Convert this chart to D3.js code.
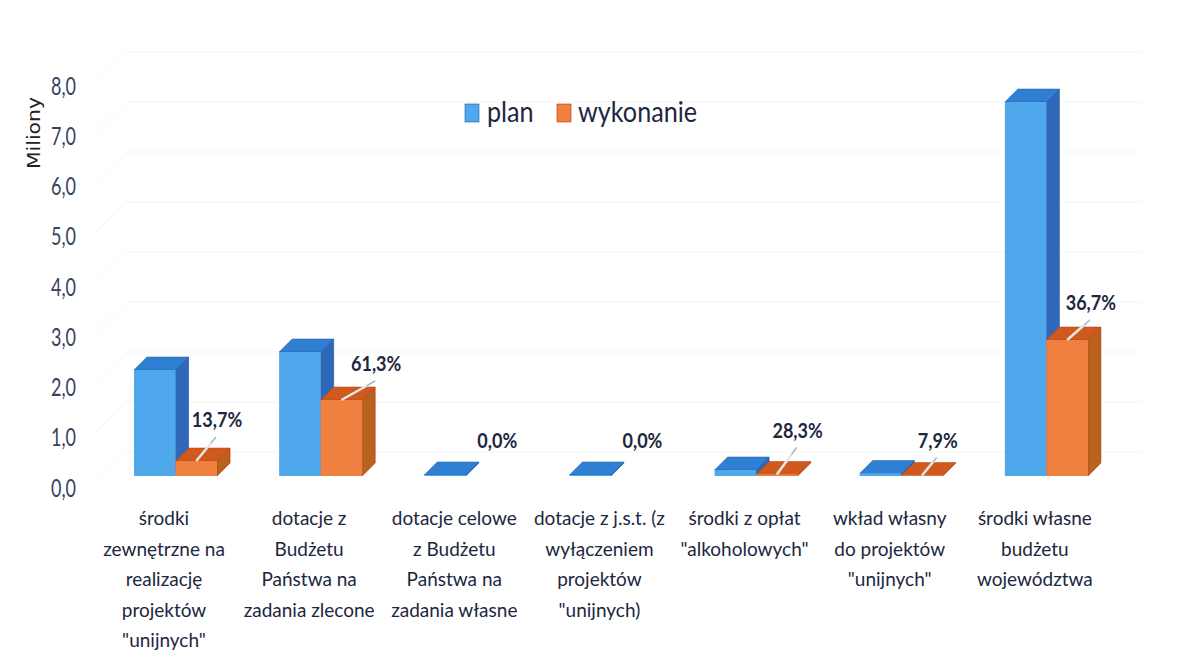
<!doctype html>
<html lang="pl">
<head>
<meta charset="utf-8">
<title>Plan i wykonanie</title>
<script src="https://d3js.org/d3.v7.min.js"></script>
<style>
  body { margin: 0; background: #fff; }
  text { font-family: "Lato", "Open Sans", sans-serif; }
</style>
</head>
<body>
<div id="chart"></div>
<script>
// wartości (miliony)
var categories = [
  ["środki", "zewnętrzne na", "realizację", "projektów", "\"unijnych\""],
  ["dotacje z", "Budżetu", "Państwa na", "zadania zlecone"],
  ["dotacje celowe", "z Budżetu", "Państwa na", "zadania własne"],
  ["dotacje z j.s.t. (z", "wyłączeniem", "projektów", "\"unijnych)"],
  ["środki z opłat", "\"alkoholowych\""],
  ["wkład własny", "do projektów", "\"unijnych\""],
  ["środki własne", "budżetu", "województwa"]
];
var plan = [2.12, 2.48, 0.02, 0.02, 0.12, 0.05, 7.48];
var wykonanie = [0.3, 1.52, 0, 0, 0.03, 0.01, 2.72];
var percent = ["13,7%", "61,3%", "0,0%", "0,0%", "28,3%", "7,9%", "36,7%"];
var ticks = [0, 1, 2, 3, 4, 5, 6, 7, 8];

var w = 1183, h = 661;
var dx = 13, dy = 13; // głębokość słupka
var ink = "#1c2740";

// przesunięcia etykiet względem słupków
var labelDx = [0, 14, -10, -10, 0, -5, 3];
var labelDy = [-34, -29, -28, -28, -37, -28, -30];

var svg = d3.select("#chart").append("svg")
  .attr("width", w).attr("height", h)
  .style("display", "block");

var x = d3.scaleBand().domain(d3.range(categories.length)).range([134, 1150]).paddingInner(0).paddingOuter(0);
var bw = 41.5;
var y = d3.scaleLinear().domain([0, 8]).range([476, 76]);
var yAxis = d3.scaleLinear().domain([0, 8]).range([488, 86]);

// siatka: tylna ściana i skosy
var grid = svg.append("g").attr("stroke", "#f4f5f6").attr("fill", "none");
ticks.forEach(function(t) {
  grid.append("line").attr("x1", 127).attr("x2", 1142).attr("y1", y(t) - 24).attr("y2", y(t) - 24);
  grid.append("line").attr("x1", 93).attr("x2", 127).attr("y1", y(t) + 9).attr("y2", y(t) - 24);
});

// oś pionowa
var axis = svg.append("g")
  .attr("transform", "translate(76,0)")
  .call(d3.axisLeft(yAxis).tickValues(ticks).tickSize(0).tickPadding(0)
    .tickFormat(function(d) { return d3.format(".1f")(d).replace(".", ","); }));
axis.select(".domain").remove();
axis.selectAll("text")
  .attr("fill", "#34435e")
  .attr("x", 0)
  .attr("transform", "scale(0.9,1.25)")
  .style("font-size", "20px");

svg.append("text")
  .attr("transform", "translate(40,133) rotate(-90) scale(1.2,1)")
  .attr("text-anchor", "middle")
  .attr("fill", "#222")
  .style("font-family", "'DejaVu Sans'")
  .style("font-size", "17px")
  .text("Miliony");

function drawBar(g, x0, v, c) {
  var top = y(v), base = y(0), x1 = x0 + bw;
  g.append("polygon").attr("fill", c.side).attr("stroke", c.edge).attr("stroke-width", 0.7)
    .attr("points", [[x1, top], [x1 + dx, top - dy], [x1 + dx, base - dy], [x1, base]].join(" "));
  g.append("polygon").attr("fill", c.top).attr("stroke", c.edge).attr("stroke-width", 0.5)
    .attr("points", [[x0, top], [x0 + dx, top - dy], [x1 + dx, top - dy], [x1, top]].join(" "));
  g.append("rect").attr("fill", c.front)
    .attr("x", x0).attr("y", top).attr("width", bw).attr("height", base - top);
}

var blue = { front: "#4fa8ec", top: "#2f80d2", side: "#2f68b8", edge: "#1f57b0" };
var orange = { front: "#ef8040", top: "#d05a1e", side: "#b8621e", edge: "#b8380f" };

var bars = svg.selectAll("g.grupa")
  .data(categories)
  .enter()
  .append("g")
  .attr("class", "grupa");

bars.each(function(d, i) {
  var g = d3.select(this), x0 = x(i);
  drawBar(g, x0, plan[i], blue);
  if (wykonanie[i] > 0) {
    drawBar(g, x0 + bw, wykonanie[i], orange);
    // linia odniesienia
    var lx = x0 + bw * 1.5, ly = y(wykonanie[i]);
    var lx2 = x0 + 2 * bw + labelDx[i] - 1, ly2 = ly + labelDy[i] + 10;
    g.append("line").attr("x1", lx).attr("y1", ly).attr("x2", lx2).attr("y2", ly2)
      .attr("stroke", "#e3e8ea").attr("stroke-width", 2.5);
    g.append("line").attr("x1", lx + (lx2 - lx) * 0.75).attr("y1", ly + (ly2 - ly) * 0.75).attr("x2", lx2).attr("y2", ly2)
      .attr("stroke", "#7f9fc4").attr("stroke-width", 1);
  }
  // procent
  g.append("text")
    .attr("transform", "translate(" + (x0 + 2 * bw + labelDx[i]) + "," + (y(wykonanie[i]) + labelDy[i]) + ") scale(0.9,1)")
    .attr("text-anchor", "middle")
    .attr("fill", ink)
    .attr("font-weight", 700)
    .style("font-size", "20px")
    .text(percent[i]);
  // etykieta kategorii
  g.append("text")
    .attr("text-anchor", "middle")
    .attr("fill", ink)
    .style("font-size", "19px")
    .selectAll("tspan")
    .data(d)
    .enter()
    .append("tspan")
    .attr("x", x0 + 30)
    .attr("y", function(t, j) { return 525 + j * 30.5; })
    .text(function(t) { return t; });
});

// legenda
var legend = [["plan", 465, 487, blue], ["wykonanie", 557, 578, orange]];
legend.forEach(function(l) {
  svg.append("rect").attr("x", l[1]).attr("y", 104).attr("width", 14).attr("height", 18)
    .attr("fill", l[3].front).attr("stroke", l[3].edge).attr("stroke-width", 0.6);
  svg.append("text").attr("x", l[2]).attr("y", 122).attr("fill", ink)
    .attr("transform", "translate(" + (l[2] * 0.1) + ",0) scale(0.9,1)")
    .style("font-size", "28px").text(l[0]);
});
</script>
</body>
</html>
